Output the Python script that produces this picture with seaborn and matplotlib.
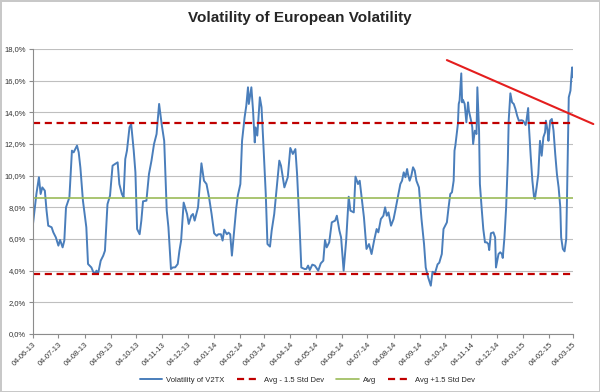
import pandas as pd
import matplotlib.pyplot as plt
import matplotlib.dates as mdates
from matplotlib.ticker import FuncFormatter
import seaborn as sns

### DATA ###

dates = [
    "2013-06-04", "2013-06-08", "2013-06-11", "2013-06-13", "2013-06-15", "2013-06-18", "2013-06-20",
    "2013-06-22", "2013-06-26", "2013-06-28", "2013-07-01", "2013-07-04", "2013-07-06", "2013-07-09",
    "2013-07-11", "2013-07-13", "2013-07-17", "2013-07-20", "2013-07-22", "2013-07-26", "2013-07-28",
    "2013-07-30", "2013-08-02", "2013-08-06", "2013-08-08", "2013-08-12", "2013-08-14", "2013-08-16",
    "2013-08-18", "2013-08-20", "2013-08-23", "2013-08-26", "2013-08-28", "2013-08-31", "2013-09-03",
    "2013-09-06", "2013-09-09", "2013-09-12", "2013-09-14", "2013-09-17", "2013-09-19", "2013-09-21",
    "2013-09-23", "2013-09-26", "2013-09-28", "2013-10-01", "2013-10-03", "2013-10-05", "2013-10-08",
    "2013-10-10", "2013-10-12", "2013-10-16", "2013-10-19", "2013-10-22", "2013-10-25", "2013-10-28",
    "2013-10-31", "2013-11-03", "2013-11-06", "2013-11-09", "2013-11-11", "2013-11-14", "2013-11-16",
    "2013-11-19", "2013-11-22", "2013-11-24", "2013-11-26", "2013-11-29", "2013-12-03", "2013-12-05",
    "2013-12-08", "2013-12-10", "2013-12-12", "2013-12-16", "2013-12-20", "2013-12-23", "2013-12-26",
    "2013-12-29", "2014-01-01", "2014-01-04", "2014-01-07", "2014-01-09", "2014-01-12", "2014-01-14",
    "2014-01-16", "2014-01-19", "2014-01-21", "2014-01-23", "2014-01-25", "2014-01-28", "2014-01-30",
    "2014-02-01", "2014-02-04", "2014-02-06", "2014-02-09", "2014-02-11", "2014-02-13", "2014-02-14",
    "2014-02-17", "2014-02-19", "2014-02-21", "2014-02-22", "2014-02-24", "2014-02-27", "2014-03-01",
    "2014-03-03", "2014-03-06", "2014-03-08", "2014-03-11", "2014-03-13", "2014-03-16", "2014-03-19",
    "2014-03-22", "2014-03-24", "2014-03-28", "2014-04-01", "2014-04-04", "2014-04-07", "2014-04-10",
    "2014-04-12", "2014-04-15", "2014-04-17", "2014-04-21", "2014-04-23", "2014-04-25", "2014-04-27",
    "2014-04-30", "2014-05-03", "2014-05-07", "2014-05-10", "2014-05-13", "2014-05-15", "2014-05-17",
    "2014-05-20", "2014-05-23", "2014-05-27", "2014-05-29", "2014-06-01", "2014-06-03", "2014-06-06",
    "2014-06-09", "2014-06-12", "2014-06-14", "2014-06-18", "2014-06-20", "2014-06-23", "2014-06-25",
    "2014-06-27", "2014-06-30", "2014-07-03", "2014-07-06", "2014-07-09", "2014-07-12", "2014-07-15",
    "2014-07-17", "2014-07-20", "2014-07-23", "2014-07-25", "2014-07-27", "2014-07-29", "2014-08-01",
    "2014-08-04", "2014-08-06", "2014-08-09", "2014-08-12", "2014-08-14", "2014-08-16", "2014-08-18",
    "2014-08-20", "2014-08-21", "2014-08-23", "2014-08-25", "2014-08-27", "2014-08-29", "2014-08-31",
    "2014-09-03", "2014-09-06", "2014-09-09", "2014-09-11", "2014-09-14", "2014-09-17", "2014-09-19",
    "2014-09-22", "2014-09-25", "2014-09-27", "2014-09-30", "2014-10-02", "2014-10-04", "2014-10-06",
    "2014-10-08", "2014-10-10", "2014-10-12", "2014-10-14", "2014-10-15", "2014-10-16", "2014-10-19",
    "2014-10-20", "2014-10-21", "2014-10-23", "2014-10-24", "2014-10-25", "2014-10-27", "2014-10-29",
    "2014-10-31", "2014-11-01", "2014-11-04", "2014-11-05", "2014-11-06", "2014-11-08", "2014-11-10",
    "2014-11-11", "2014-11-13", "2014-11-14", "2014-11-16", "2014-11-18", "2014-11-20", "2014-11-22",
    "2014-11-24", "2014-11-25", "2014-11-27", "2014-11-30", "2014-12-02", "2014-12-03", "2014-12-06",
    "2014-12-08", "2014-12-10", "2014-12-11", "2014-12-13", "2014-12-15", "2014-12-17", "2014-12-18",
    "2014-12-20", "2014-12-22", "2014-12-24", "2014-12-26", "2014-12-28", "2014-12-30", "2015-01-02",
    "2015-01-04", "2015-01-07", "2015-01-08", "2015-01-10", "2015-01-11", "2015-01-13", "2015-01-15",
    "2015-01-17", "2015-01-18", "2015-01-20", "2015-01-22", "2015-01-24", "2015-01-26", "2015-01-28",
    "2015-01-30", "2015-01-31", "2015-02-02", "2015-02-03", "2015-02-05", "2015-02-07", "2015-02-09",
    "2015-02-11", "2015-02-13", "2015-02-15", "2015-02-17", "2015-02-18", "2015-02-20", "2015-02-22",
    "2015-02-24", "2015-02-25", "2015-02-27", "2015-03-01", "2015-03-02", "2015-03-03", "2015-03-04",
]

# volatility of V2TX, in percent
v2tx_vol = [
    6.95, 8.84, 9.90, 8.84, 9.26, 9.05, 7.80,
    6.84, 6.74, 6.42, 6.10, 5.58, 5.94, 5.47,
    5.90, 8.00, 8.63, 11.58, 11.47, 11.90, 11.47,
    10.50, 8.42, 6.74, 4.42, 4.20, 3.94, 3.79,
    4.00, 3.83, 4.63, 4.95, 5.26, 8.20, 8.74,
    10.63, 10.74, 10.84, 9.47, 8.84, 8.63, 11.05,
    11.58, 13.05, 13.26, 11.58, 10.21, 6.63, 6.30,
    7.16, 8.38, 8.42, 10.10, 10.95, 12.00, 12.63,
    14.53, 13.26, 12.20, 7.80, 6.74, 4.10, 4.20,
    4.21, 4.42, 5.26, 5.90, 8.30, 7.58, 6.95,
    7.47, 7.58, 7.16, 8.00, 10.78, 9.68, 9.47,
    8.63, 7.58, 6.36, 6.20, 6.30, 6.30, 5.90,
    6.59, 6.30, 6.40, 6.30, 4.95, 6.74, 7.89,
    8.74, 9.47, 12.20, 13.68, 14.42, 15.58, 14.53,
    15.58, 14.10, 12.10, 13.05, 12.53, 14.95, 14.32,
    12.20, 8.84, 5.68, 5.52, 6.53, 7.58, 9.26,
    10.95, 10.63, 9.26, 9.90, 11.75, 11.37, 11.68,
    10.10, 6.74, 4.20, 4.10, 4.11, 4.32, 4.04,
    4.38, 4.32, 4.00, 4.46, 4.63, 5.94, 5.47,
    5.79, 7.05, 7.16, 7.47, 6.53, 6.10, 4.00,
    5.90, 8.67, 7.79, 7.68, 9.94, 9.47, 9.68,
    8.74, 7.37, 5.37, 5.68, 5.05, 5.90, 6.63,
    6.42, 7.26, 7.47, 8.00, 7.47, 7.68, 6.84,
    7.26, 7.79, 8.63, 9.47, 9.68, 10.21, 9.90,
    10.42, 10.10, 9.68, 10.00, 10.53, 10.32, 9.68,
    9.26, 7.26, 5.68, 4.20, 3.55, 3.05, 3.93,
    3.85, 4.40, 4.50, 5.05, 6.63, 6.84, 7.05,
    8.00, 8.84, 8.95, 9.68, 11.58, 11.90, 13.26,
    14.53, 14.74, 16.46, 14.63, 14.79, 14.53, 13.37,
    14.63, 14.10, 13.37, 13.05, 12.00, 12.84, 12.63,
    15.58, 12.84, 9.47, 8.00, 6.63, 5.79, 5.79,
    5.68, 5.30, 6.36, 6.42, 6.10, 4.20, 5.05,
    5.16, 5.05, 4.80, 6.10, 8.00, 10.95, 13.47,
    15.20, 14.63, 14.53, 14.21, 13.79, 13.47, 13.50,
    13.47, 13.20, 13.47, 14.27, 13.05, 11.26, 9.68,
    8.63, 8.53, 9.26, 10.10, 12.20, 11.26, 12.42,
    12.74, 13.47, 12.84, 12.20, 13.47, 13.58, 12.84,
    11.37, 10.10, 9.26, 8.00, 6.10, 5.37, 5.22,
    6.00, 8.84, 14.95, 15.37, 16.21, 16.84, 16.21,
]

avg_level = 8.57
lower_band = 3.79   # avg - 1.5 std
upper_band = 13.35  # avg + 1.5 std

# hand drawn resistance line
trend_dates = ["2014-10-06", "2015-03-28"]
trend_vals = [17.30, 13.26]

series_labels = ["Volatility of V2TX", "Avg - 1.5 Std Dev", "Avg", "Avg +1.5 Std Dev"]

### PLOT ###

sns.set_style("white")
plt.rcParams["font.family"] = ["Liberation Sans", "DejaVu Sans"]

df = pd.DataFrame({"date": pd.to_datetime(dates), "vol": v2tx_vol})
trend = pd.DataFrame({"date": pd.to_datetime(trend_dates), "vol": trend_vals})

fig = plt.figure(figsize=(6, 3.92), dpi=100)
fig.patch.set_edgecolor("#C8C8C8")
fig.patch.set_linewidth(2)
ax = fig.add_axes([0.055, 0.148, 0.9, 0.727])

sns.lineplot(data=df, x="date", y="vol", color="#4A7EBB", lw=1.4,
             label=series_labels[0], ax=ax)
ax.axhline(lower_band, color="#C00000", lw=1.6, dashes=(3.2, 2.1), label=series_labels[1])
ax.axhline(avg_level, color="#9BBB59", lw=1.2, label=series_labels[2])
ax.axhline(upper_band, color="#C00000", lw=1.6, dashes=(3.2, 2.1), label=series_labels[3])

sns.lineplot(data=trend, x="date", y="vol", color="#E41E1E", lw=1.5, legend=False, ax=ax)
ax.lines[-1].set_clip_on(False)

# axes
ax.set_xlim(df["date"].min(), df["date"].max())
ax.set_ylim(0, 18)
ax.set_yticks(range(0, 19, 2))
ax.yaxis.set_major_formatter(FuncFormatter(lambda v, _: f"{v:.1f}%".replace(".", ",")))
ax.xaxis.set_major_locator(mdates.MonthLocator(bymonthday=4))
ax.xaxis.set_major_formatter(mdates.DateFormatter("%d-%m-%y"))
ax.set_xlabel("")
ax.set_ylabel("")

ax.yaxis.grid(True, color="#BFBFBF", lw=0.8)
ax.set_axisbelow(True)
sns.despine(ax=ax)
for side in ["left", "bottom"]:
    ax.spines[side].set_color("#8C8C8C")
    ax.spines[side].set_linewidth(0.8)

ax.tick_params(axis="both", bottom=True, left=True, length=3, width=0.8,
               color="#8C8C8C", labelsize=5.5, labelcolor="#333333", pad=2)
plt.setp(ax.get_xticklabels(), rotation=45, ha="right", rotation_mode="anchor")

fig.text(0.5, 0.955, "Volatility of European Volatility", ha="center", va="center",
         fontsize=11, fontweight="bold")

handles, labels = ax.get_legend_handles_labels()
ax.get_legend().remove()
fig.legend(handles, labels, loc="center", bbox_to_anchor=(0.512, 0.031), ncol=4,
           frameon=False, fontsize=5.5, handlelength=3.0, handletextpad=0.5,
           columnspacing=1.6)

fig.savefig("out.png", dpi=100)
